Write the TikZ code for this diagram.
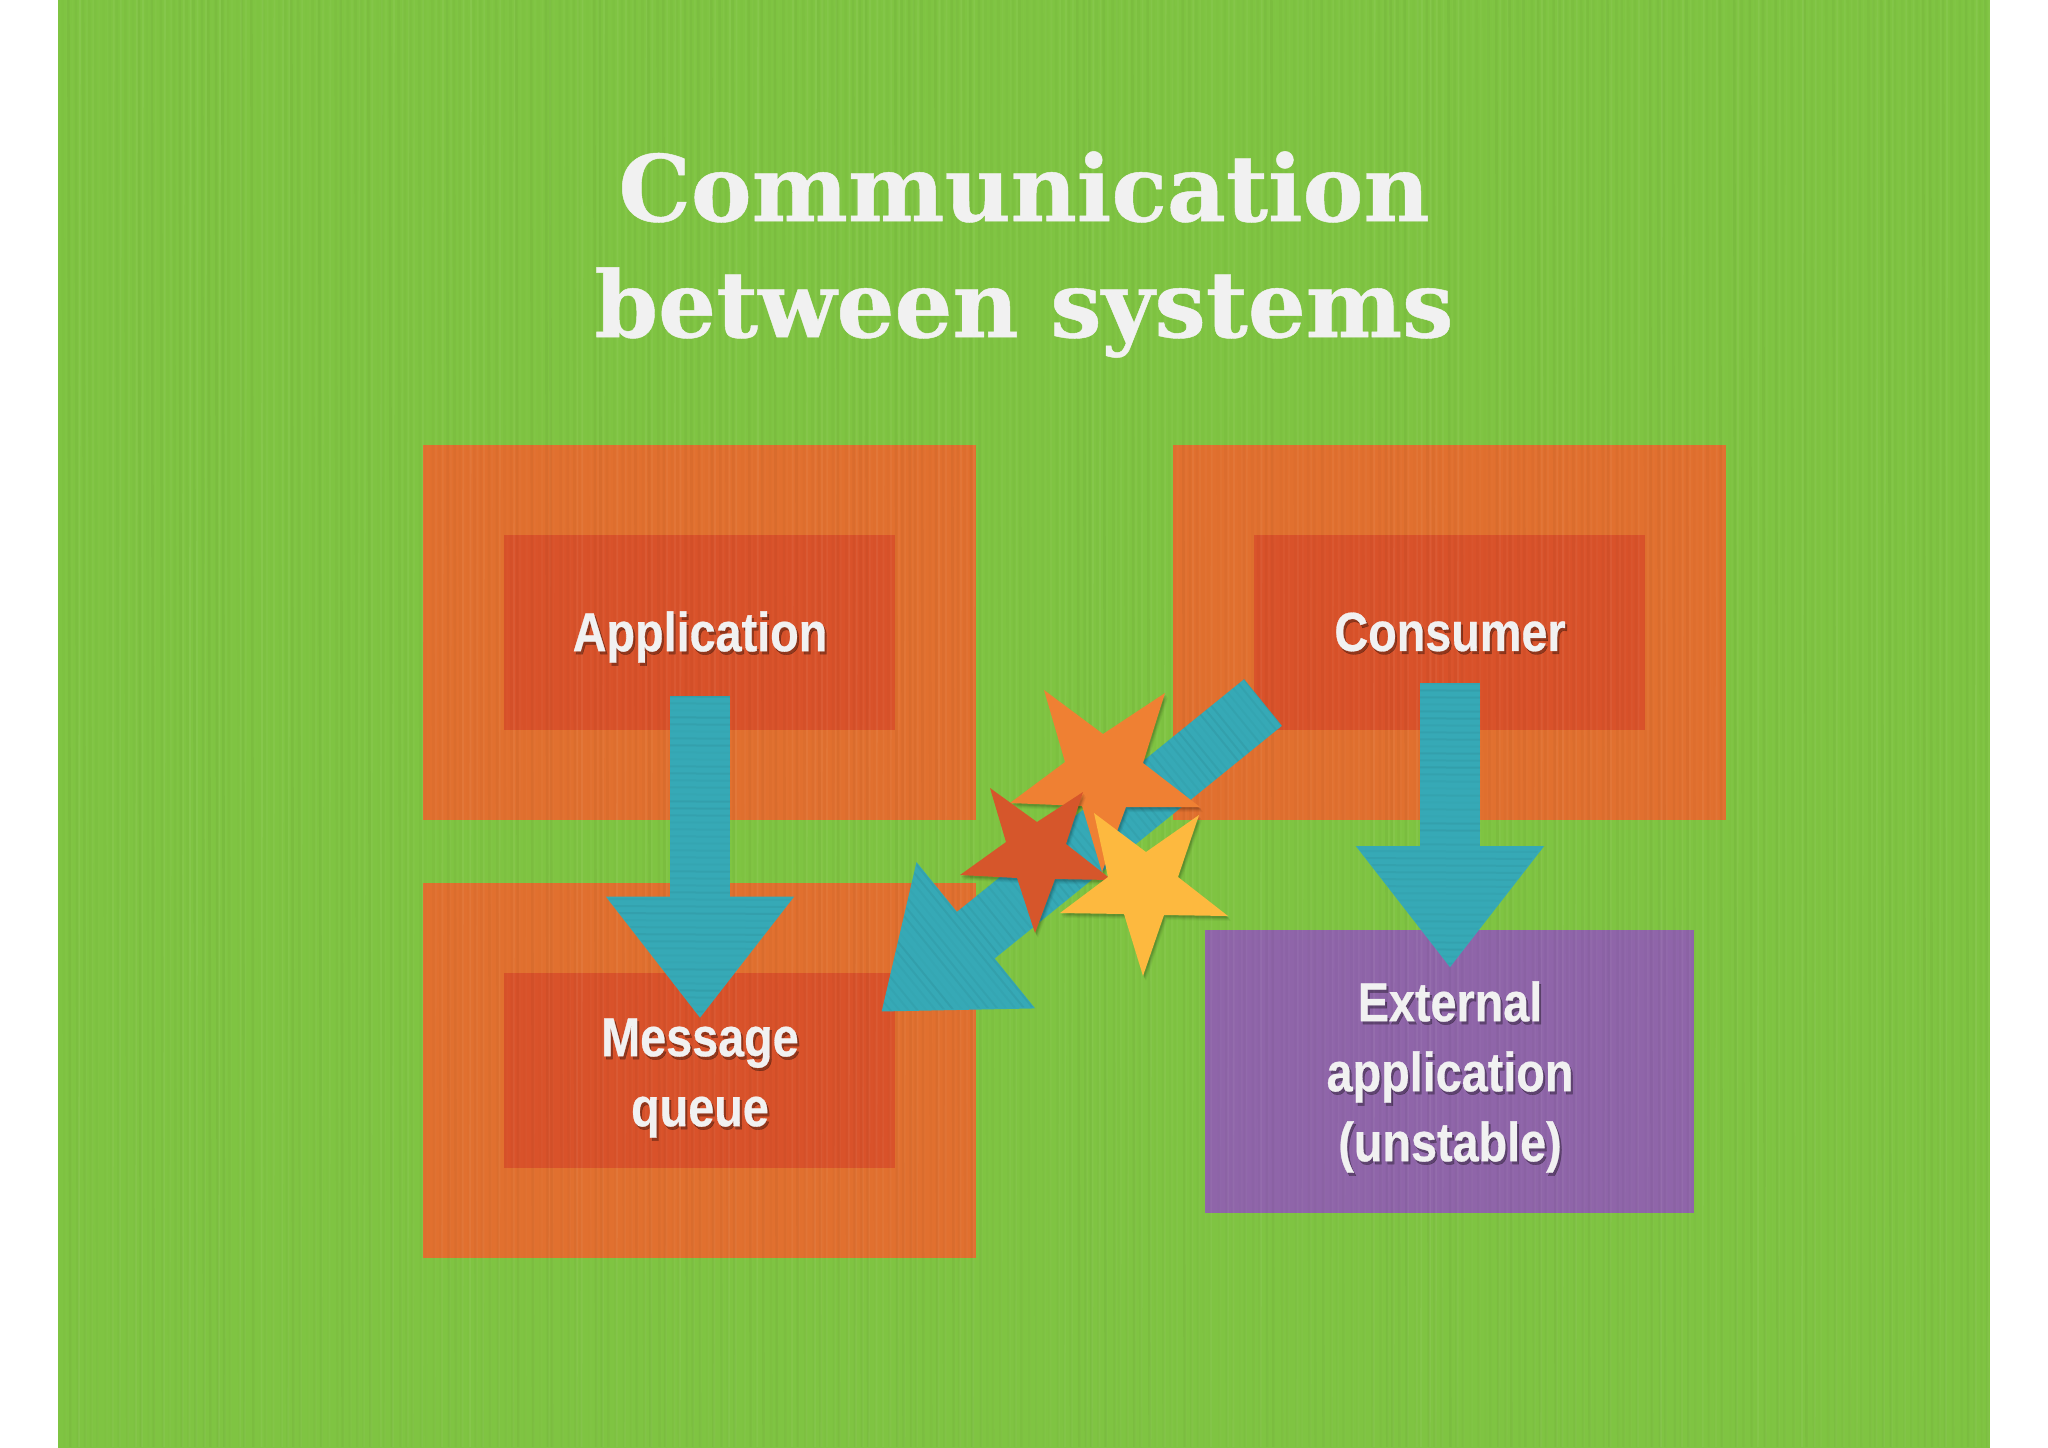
\documentclass[tikz,border=0pt]{standalone}
\usepackage{fontspec}
\setmainfont{Liberation Sans}
\newfontfamily\titlefont[FakeStretch=0.99,FakeBold=0.5]{DejaVu Serif}
\newfontfamily\labelfont[FakeStretch=0.85,FakeBold=0.5]{Liberation Sans}
\usetikzlibrary{arrows.meta}
\definecolor{pagegreen}{HTML}{7FC442}
\definecolor{outerorange}{HTML}{E1702F}
\definecolor{innerred}{HTML}{D9522A}
\definecolor{teal}{HTML}{36A9B6}
\definecolor{violet}{HTML}{8F65A9}
\definecolor{starorange}{HTML}{EF8033}
\definecolor{starred}{HTML}{D6562B}
\definecolor{staryellow}{HTML}{FDB93F}
\definecolor{paper}{HTML}{F1F1F1}
\tikzset{
  outerbox/.style={fill=outerorange,draw=none,inner sep=0pt,minimum width=276.5pt,minimum height=187.5pt},
  innerbox/.style={fill=innerred,draw=none,inner sep=0pt,minimum width=195.5pt,minimum height=97.5pt},
  purplebox/.style={fill=violet,draw=none,inner sep=0pt,minimum width=244.5pt,minimum height=141.5pt},
  boxlabel/.style={inner sep=0pt,text=paper,align=center,font=\labelfont\bfseries\fontsize{27.5}{35}\selectfont},
  labelshadow/.style={inner sep=0pt,text=black,opacity=.33,align=center,font=\labelfont\bfseries\fontsize{27.5}{35}\selectfont},
  titlelabel/.style={inner sep=0pt,text=paper,align=center,font=\titlefont\bfseries\fontsize{46}{58}\selectfont},
  bigarrow/.style={draw=teal,line width=30pt,line cap=butt,-{Triangle[width=90pt,length=61pt,fill=teal]}},
}
\newcommand\shadowedstar[2]{%
  \foreach \d/\o in {5/.04,4/.05,3/.07,2/.1}{
    \fill[black,opacity=\o,shift={(\d*.6,\d)}] #2;
  }
  \fill[#1] #2;
}
\begin{document}
\begin{tikzpicture}[x=0.5pt,y=-0.5pt]
\useasboundingbox (0,0) rectangle (2048,1447);
\fill[pagegreen] (58,-2) rectangle (1990,1449);

% boxes
\node[outerbox] (appouter) at (699.5,632) {};
\node[innerbox] (appinner) at (699.5,632) {};
\node[outerbox] (mqouter) at (699.5,1070) {};
\node[innerbox] (mqinner) at (699.5,1070.5) {};
\node[outerbox] (conouter) at (1449.5,632) {};
\node[innerbox] (coninner) at (1449,632) {};
\node[purplebox] (extbox) at (1449.5,1071) {};

% paper texture
\pgfmathsetseed{7}
\foreach \i in {0,...,275}{
  \pgfmathsetmacro\xa{60+\i*7+3*rnd}
  \pgfmathsetmacro\oa{.01+.045*rnd}
  \pgfmathsetmacro\ob{.005+.03*rnd}
  \draw[black,line width=1.3pt,opacity=\ob] (\xa,0) -- (\xa+2,1447);
  \draw[white,line width=.9pt,opacity=\oa] (\xa+4,0) -- (\xa+3,1447);
}

% labels
\node[labelshadow] at (702,640) {Application};
\node[labelshadow] at (1452,635) {Consumer};
\node[labelshadow] at (702,1081) {Message\\queue};
\node[labelshadow] at (1452,1080) {External\\application\\(unstable)};
\node[boxlabel] (applabel) at (700,637) {Application};
\node[boxlabel] (conlabel) at (1450,632) {Consumer};
\node[boxlabel] (mqlabel) at (700,1078) {Message\\queue};
\node[boxlabel] (extlabel) at (1450,1077) {External\\application\\(unstable)};

% title
\node[titlelabel] (title) at (1024,254.5) {Communication\\between systems};

% arrows
\coordinate (appstart) at (700,696);
\coordinate (apptip) at (700,1018.5);
\coordinate (constart) at (1450,683);
\coordinate (contip) at (1450,968);
\coordinate (diagstart) at (1263,702.5);
\coordinate (diagtip) at (881,1012);
\draw[bigarrow] (appstart) -- (apptip);
\draw[bigarrow] (constart) -- (contip);
\draw[bigarrow] (diagstart) -- (diagtip);

% arrow texture
\begin{scope}
  \clip (670,696) -- (730,696) -- (730,897) -- (793,897) -- (700,1016) -- (607,897) -- (670,897) -- cycle;
  \foreach \i in {0,...,45}{
    \pgfmathsetmacro\oa{.01+.05*rnd}
    \draw[black,line width=1pt,opacity=\oa] (600,696+\i*7) -- (800,697+\i*7);
  }
\end{scope}
\begin{scope}
  \clip (1420,683) -- (1480,683) -- (1480,846) -- (1542,846) -- (1450,966) -- (1357,846) -- (1420,846) -- cycle;
  \foreach \i in {0,...,41}{
    \pgfmathsetmacro\oa{.01+.05*rnd}
    \draw[black,line width=1pt,opacity=\oa] (1350,683+\i*7) -- (1550,684+\i*7);
  }
\end{scope}
\begin{scope}
  \clip (1244,679) -- (1282,726) -- (995,957) -- (1033,1007) -- (882,1011) -- (917,862) -- (957,911) -- cycle;
  \foreach \i in {0,...,70}{
    \pgfmathsetmacro\oa{.01+.05*rnd}
    \pgfmathsetmacro\px{882+\i*7*0.777}
    \pgfmathsetmacro\py{1011-\i*7*0.63}
    \draw[black,line width=1pt,opacity=\oa] (\px-126,\py-155) -- (\px+126,\py+155);
  }
\end{scope}

% stars
\shadowedstar{starorange}{(1044,690) -- (1103,734) -- (1165,693) -- (1143,763) -- (1200,807) -- (1126,807) -- (1102,872) -- (1082,806) -- (1010,803) -- (1065,762) -- cycle}
\shadowedstar{starred}{(990,788) -- (1037,822) -- (1083,792) -- (1066,844) -- (1112,880) -- (1055,879) -- (1035,933) -- (1017,878) -- (960,875) -- (1006,842) -- cycle}
\shadowedstar{staryellow}{(1094,813) -- (1146,852) -- (1199,815) -- (1178,877) -- (1228,916) -- (1164,915) -- (1143,976) -- (1124,914) -- (1060,913) -- (1108,877) -- cycle}
\end{tikzpicture}
\end{document}
